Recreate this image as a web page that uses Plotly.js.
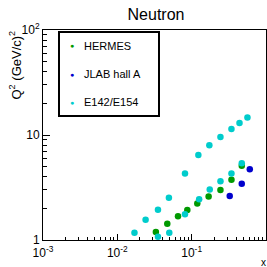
<!DOCTYPE html>
<html>
<head>
<meta charset="utf-8">
<script src="https://cdn.plot.ly/plotly-3.0.1.min.js"></script>
<style>html,body{margin:0;padding:0;background:#fff;}#chart{width:267px;height:267px;}</style>
</head>
<body>
<div id="chart"></div>
<script>
// HERMES
const hermesX = [0.033, 0.047, 0.0655, 0.0874, 0.119, 0.169, 0.244, 0.343, 0.472];
const hermesQ2 = [1.19, 1.43, 1.68, 1.93, 2.23, 2.59, 2.99, 3.75, 5.1];
// JLAB hall A
const jlabX = [0.325, 0.472, 0.605];
const jlabQ2 = [2.62, 3.44, 4.71];
// E142/E154
const e14X = [0.017, 0.024, 0.0352, 0.0494, 0.0813, 0.123, 0.173, 0.244, 0.343, 0.44, 0.563,
              0.0352, 0.050, 0.0813, 0.126, 0.175, 0.244, 0.343, 0.472];
const e14Q2 = [1.17, 1.56, 1.94, 2.53, 4.31, 6.45, 7.97, 9.57, 11.4, 13.0, 14.7,
               1.076, 1.17, 1.76, 2.44, 3.02, 3.62, 4.31, 5.37];

const seriesNames = ['HERMES', 'JLAB hall A', 'E142/E154'];
const seriesColors = ['#009900', '#0000cc', '#00cccc'];

const xTickVals = [0.001, 0.01, 0.1, 1];
const xTickText = ['10<sup>-3</sup>', '10<sup>-2</sup>', '10<sup>-1</sup>', '1'];
const yTickVals = [1, 10, 100];
const yTickText = ['1', '10', '10<sup>2</sup>'];

function minorVals(lo, hi) {
  const v = [];
  for (let e = lo; e < hi; e++) for (let m = 2; m <= 9; m++) v.push(m * Math.pow(10, e));
  return v;
}

const font = {family: 'Liberation Sans, Arial, sans-serif', color: '#000'};
const mk = (x, y, i) => ({
  x: x, y: y, type: 'scatter', mode: 'markers', name: seriesNames[i],
  marker: {color: seriesColors[i], size: 6.5}, showlegend: false, cliponaxis: true
});

const data = [mk(hermesX, hermesQ2, 0), mk(jlabX, jlabQ2, 1), mk(e14X, e14Q2, 2)];

// manual legend (ROOT style)
const legX0 = 59, legY0 = 32, legX1 = 159, legY1 = 116;
const W = 267, H = 267, ml = 43, mr = 1, mt = 30, mb = 27;
const pw = W - ml - mr, ph = H - mt - mb;
const px = p => (p - ml) / pw;
const py = p => (H - mb - p) / ph;
const entryY = [46, 74, 102];

const annotations = [];
seriesNames.forEach((n, i) => {
  annotations.push({xref: 'paper', yref: 'paper', x: px(71.5), y: py(entryY[i]), text: '●',
    showarrow: false, font: Object.assign({}, font, {size: 7, color: seriesColors[i]}),
    xanchor: 'center', yanchor: 'middle'});
  annotations.push({xref: 'paper', yref: 'paper', x: px(82), y: py(entryY[i]), text: n,
    showarrow: false, font: Object.assign({}, font, {size: 11}), xanchor: 'left', yanchor: 'middle'});
});
annotations.push({xref: 'paper', yref: 'paper', x: px(15), y: py(29), text: 'Q<sup>2</sup> (GeV/c)<sup>2</sup>',
  textangle: -90, showarrow: false, font: Object.assign({}, font, {size: 13}), xanchor: 'center', yanchor: 'top'});
annotations.push({xref: 'paper', yref: 'paper', x: px(263), y: py(262), text: 'x',
  showarrow: false, font: Object.assign({}, font, {size: 10}), xanchor: 'center', yanchor: 'middle'});

const layout = {
  width: W, height: H,
  margin: {l: ml, r: mr, t: mt, b: mb, pad: 0},
  paper_bgcolor: '#fff', plot_bgcolor: '#fff',
  font: Object.assign({}, font, {size: 12}),
  title: {text: 'Neutron', font: Object.assign({}, font, {size: 16}), x: 156 / W, xanchor: 'center', y: 1 - 14 / H, yanchor: 'middle'},
  showlegend: false,
  xaxis: {
    type: 'log', range: [-3, 0], showgrid: false, zeroline: false,
    showline: true, linecolor: '#000', linewidth: 1, mirror: true,
    ticks: 'inside', ticklen: 6, tickcolor: '#000', ticklabelstandoff: 2,
    tickmode: 'array', tickvals: xTickVals, ticktext: xTickText,
    tickfont: Object.assign({}, font, {size: 12}),
    minor: {ticks: 'inside', ticklen: 3, tickcolor: '#000', tickmode: 'array', tickvals: minorVals(-3, 0), showgrid: false}
  },
  yaxis: {
    type: 'log', range: [0, 2], showgrid: false, zeroline: false,
    showline: true, linecolor: '#000', linewidth: 1, mirror: true,
    ticks: 'inside', ticklen: 7, tickcolor: '#000',
    tickmode: 'array', tickvals: yTickVals, ticktext: yTickText,
    tickfont: Object.assign({}, font, {size: 12}),
    minor: {ticks: 'inside', ticklen: 4, tickcolor: '#000', tickmode: 'array', tickvals: minorVals(0, 2), showgrid: false}
  },
  shapes: [{type: 'rect', xref: 'paper', yref: 'paper', x0: px(legX0), x1: px(legX1), y0: py(legY1), y1: py(legY0),
    line: {color: '#000', width: 2}, fillcolor: '#fff', layer: 'above'}],
  annotations: annotations
};

Plotly.newPlot('chart', data, layout, {staticPlot: true, displayModeBar: false});
</script>
</body>
</html>
